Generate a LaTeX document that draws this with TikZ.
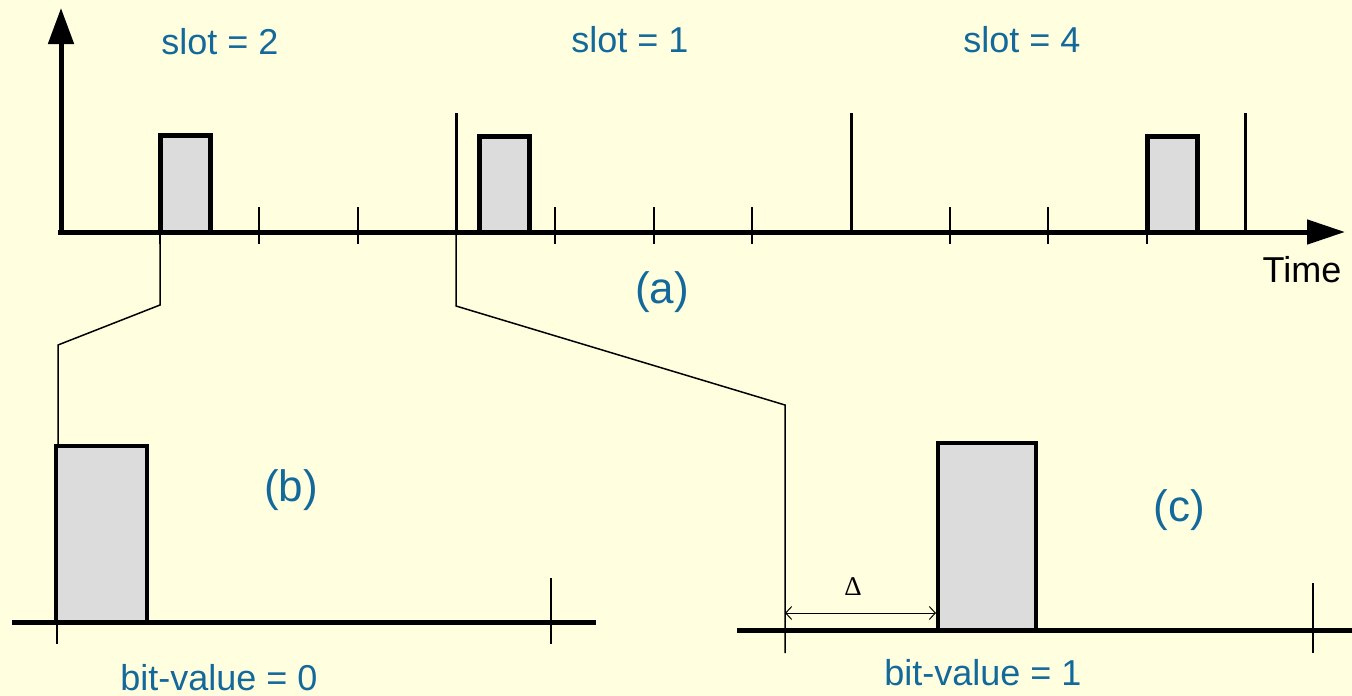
\documentclass[tikz,border=0pt]{standalone}
\usepackage{fontspec}
\setmainfont{Liberation Sans}
\newfontfamily\deltafont{Liberation Serif}
\usetikzlibrary{arrows.meta}
\definecolor{bg}{RGB}{255,255,224}
\definecolor{lbl}{RGB}{20,105,155}
\definecolor{pulsefill}{RGB}{220,220,220}
\begin{document}
\begin{tikzpicture}[x=1pt,y=-1pt,
  axis/.style={line width=5pt},
  pulse/.style={draw, line width=5pt, fill=pulsefill, inner sep=0pt, outer sep=0pt},
  tickmark/.style={line width=1.2pt},
  slotline/.style={line width=3pt},
  conn/.style={line width=1.5pt},
  lab/.style={text=lbl, font=\fontsize{36}{36}\selectfont, inner sep=0pt},
  biglab/.style={text=lbl, font=\fontsize{44}{44}\selectfont, inner sep=0pt}]
\fill[bg] (0,0) rectangle (1352,696);
\useasboundingbox (0,0) rectangle (1352,696);

% axes
\coordinate (O) at (61,234.5);
\coordinate (ytip) at (61,8);
\coordinate (x0) at (58,232);
\coordinate (xtip) at (1345,232);
\draw[axis, -{Triangle[length=36pt,width=25pt]}] (O) -- (ytip);
\draw[axis, -{Triangle[length=38pt,width=24pt]}] (x0) -- (xtip);

% ticks
\foreach \x in {160,259,358,555,654,752,950,1048,1147} {
  \draw[tickmark] (\x,207) -- (\x,244);
}

% slot boundaries
\foreach \x/\n in {456/s1,851/s2,1245/s3} {
  \coordinate (\n top) at (\x,113);
  \coordinate (\n bot) at (\x,232);
  \draw[slotline] (\n top) -- (\n bot);
}

% connectors
\coordinate (ca) at (160,232);
\coordinate (cak) at (160,305);
\coordinate (cad) at (58,345);
\coordinate (cae) at (58,446);
\draw[conn] (ca) -- (cak) -- (cad) -- (cae);
\coordinate (cb) at (456,232);
\coordinate (cbk) at (456,306);
\coordinate (cbd) at (785,405);
\coordinate (cbe) at (785,653);
\draw[conn] (cb) -- (cbk) -- (cbd) -- (cbe);

% pulses in (a)
\node[pulse, anchor=south west, minimum width=50pt, minimum height=97pt] (p1) at (160,232) {};
\node[pulse, anchor=south west, minimum width=50pt, minimum height=96pt] (p2) at (479,232) {};
\node[pulse, anchor=south west, minimum width=50pt, minimum height=96pt] (p3) at (1147,232) {};

% panel (b)
\coordinate (bl0) at (12,622);
\coordinate (bl1) at (596,622);
\draw[axis] (bl0) -- (bl1);
\draw[tickmark] (57,622) -- (57,644);
\draw[tickmark] (551,578) -- (551,644);
\node[pulse, line width=4.5pt, anchor=south west, minimum width=91pt, minimum height=176pt] (pb) at (56,622) {};

% panel (c)
\coordinate (cl0) at (737,630);
\coordinate (cl1) at (1352,630);
\draw[axis] (cl0) -- (cl1);
\draw[tickmark] (1313,583) -- (1313,653);
\node[pulse, line width=4.5pt, anchor=south west, minimum width=98pt, minimum height=187pt] (pc) at (938,630) {};
\coordinate (d0) at (785,613);
\coordinate (d1) at (936,613);
\draw[line width=1pt, {Straight Barb[length=6pt,width=13pt]}-{Straight Barb[length=6pt,width=13pt]}] (d0) -- (d1);
\node[inner sep=0pt, font=\deltafont\fontsize{27}{27}\selectfont] (delta) at (853,587) {Δ};

% labels
\node[lab] (l2) at (220,42) {slot = 2};
\node[lab] (l1) at (630,40) {slot = 1};
\node[lab] (l4) at (1022,40) {slot = 4};
\node[inner sep=0pt, font=\fontsize{36}{36}\selectfont] (time) at (1302,270) {Time};
\node[biglab] (la) at (662,292) {(a)};
\node[biglab] (lb) at (291,490) {(b)};
\node[biglab] (lc) at (1179,510) {(c)};
\node[lab] (bv0) at (219,678) {bit-value = 0};
\node[lab] (bv1) at (983,673) {bit-value = 1};
\end{tikzpicture}
\end{document}
